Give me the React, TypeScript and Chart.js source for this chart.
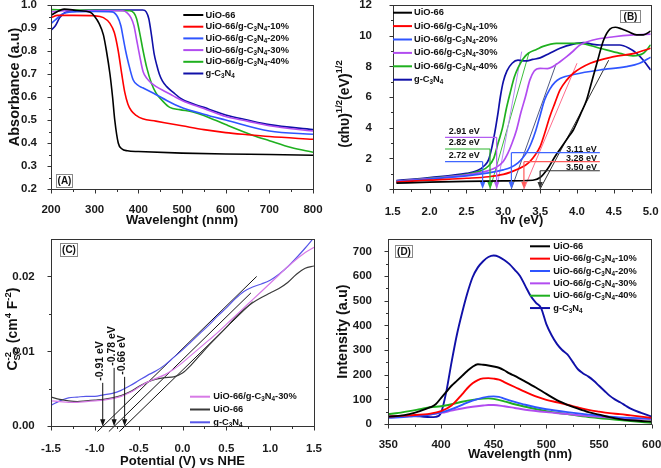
import { useEffect, useRef } from 'react';
import { Chart, registerables } from 'chart.js';

Chart.register(...registerables);

const FONT = '"Liberation Sans", Arial, Helvetica, sans-serif';

// ---------------- (A) UV-vis absorbance ----------------
const absTicksX = [200, 300, 400, 500, 600, 700, 800];
const absTicksY = [0.2, 0.3, 0.4, 0.5, 0.6, 0.7, 0.8, 0.9, 1.0];
const absUioX = [200, 215, 230, 260, 290, 300, 310, 320, 327, 335, 341, 346, 354, 362, 375, 400, 500, 600, 700, 800];
const absUioY = [0.955, 0.972, 0.982, 0.976, 0.968, 0.95, 0.92, 0.87, 0.80, 0.70, 0.60, 0.50, 0.40, 0.375, 0.366, 0.363, 0.356, 0.352, 0.350, 0.347];
const abs10X = [200, 215, 250, 300, 320, 335, 345, 354, 362, 369, 376, 384, 395, 410, 440, 500, 550, 600, 650, 700, 800];
const abs10Y = [0.945, 0.955, 0.955, 0.953, 0.945, 0.92, 0.88, 0.80, 0.70, 0.62, 0.57, 0.54, 0.52, 0.505, 0.495, 0.475, 0.458, 0.445, 0.436, 0.428, 0.416];
const abs20X = [200, 210, 225, 250, 300, 340, 352, 360, 365, 371, 377, 388, 400, 410, 441, 465, 495, 550, 600, 700, 800];
const abs20Y = [0.92, 0.935, 0.96, 0.97, 0.972, 0.97, 0.95, 0.91, 0.86, 0.80, 0.75, 0.675, 0.65, 0.64, 0.61, 0.585, 0.558, 0.525, 0.50, 0.452, 0.438];
const abs30X = [200, 230, 300, 365, 375, 383, 390, 396, 403, 411, 420, 430, 441, 460, 480, 500, 550, 600, 650, 700, 800];
const abs30Y = [0.97, 0.975, 0.975, 0.975, 0.965, 0.945, 0.91, 0.85, 0.78, 0.71, 0.68, 0.66, 0.645, 0.625, 0.605, 0.585, 0.55, 0.515, 0.495, 0.475, 0.452];
const abs40X = [200, 250, 300, 380, 390, 396, 403, 411, 419, 430, 441, 457, 472, 495, 525, 550, 600, 663, 700, 750, 800];
const abs40Y = [0.98, 0.978, 0.977, 0.975, 0.965, 0.94, 0.88, 0.80, 0.73, 0.66, 0.616, 0.58, 0.555, 0.545, 0.535, 0.52, 0.48, 0.433, 0.41, 0.38, 0.36];
const absCnX = [200, 210, 220, 235, 260, 300, 410, 418, 424, 430, 436, 442, 448, 455, 465, 480, 500, 550, 600, 650, 700, 800];
const absCnY = [0.89, 0.91, 0.945, 0.97, 0.975, 0.978, 0.978, 0.97, 0.94, 0.87, 0.79, 0.74, 0.70, 0.67, 0.645, 0.62, 0.59, 0.555, 0.522, 0.50, 0.48, 0.458];

// ---------------- (B) Tauc plot ----------------
const taucTicksX = [1.5, 2.0, 2.5, 3.0, 3.5, 4.0, 4.5, 5.0];
const taucTicksY = [0, 2, 4, 6, 8, 10, 12];
const taucUioX = [1.55, 2.0, 2.5, 3.0, 3.4, 3.5, 3.6, 3.7, 3.8, 3.9, 3.95, 4.05, 4.13, 4.2, 4.27, 4.36, 4.45, 4.52, 4.6, 4.7, 4.81, 4.9, 5.0];
const taucUioY = [0.38, 0.45, 0.5, 0.53, 0.57, 0.75, 1.3, 2.1, 2.8, 3.5, 3.85, 4.9, 5.8, 7.0, 8.2, 9.7, 10.45, 10.55, 10.45, 10.25, 10.05, 10.05, 10.3];
const tauc10X = [1.55, 2.0, 2.5, 2.8, 3.0, 3.1, 3.2, 3.3, 3.36, 3.43, 3.5, 3.56, 3.63, 3.7, 3.77, 3.86, 3.95, 4.18, 4.5, 4.78, 5.0];
const tauc10Y = [0.45, 0.58, 0.7, 0.8, 0.95, 1.1, 1.3, 1.55, 1.78, 2.2, 2.76, 3.6, 4.7, 5.6, 6.46, 7.1, 7.55, 8.2, 8.63, 8.85, 9.18];
const tauc20X = [1.55, 2.0, 2.5, 2.8, 3.0, 3.1, 3.2, 3.26, 3.32, 3.38, 3.44, 3.5, 3.56, 3.63, 3.7, 3.77, 3.99, 4.31, 4.67, 4.85, 5.0];
const tauc20Y = [0.48, 0.65, 0.85, 1.05, 1.25, 1.4, 1.7, 2.0, 2.4, 3.0, 3.8, 4.8, 5.8, 6.5, 6.95, 7.2, 7.5, 7.76, 7.98, 8.2, 8.6];
const tauc30X = [1.55, 2.0, 2.5, 2.8, 2.9, 3.0, 3.06, 3.12, 3.18, 3.24, 3.3, 3.36, 3.42, 3.5, 3.6, 3.68, 3.77, 3.86, 3.95, 4.04, 4.22, 4.5, 4.77, 5.0];
const tauc30Y = [0.5, 0.68, 0.92, 1.2, 1.4, 1.8, 2.3, 3.0, 3.85, 5.0, 6.0, 7.1, 7.7, 7.87, 7.85, 8.0, 8.3, 8.63, 9.0, 9.39, 9.72, 9.93, 10.05, 10.1];
const tauc40X = [1.55, 2.0, 2.5, 2.7, 2.8, 2.87, 2.93, 2.99, 3.04, 3.09, 3.15, 3.2, 3.27, 3.34, 3.45, 3.54, 3.72, 4.04, 4.31, 4.58, 4.76, 4.9, 5.0];
const tauc40Y = [0.5, 0.7, 0.95, 1.2, 1.5, 2.0, 3.0, 4.0, 5.2, 6.2, 7.3, 7.9, 8.5, 8.85, 9.1, 9.3, 9.5, 9.5, 9.18, 8.85, 8.68, 8.85, 9.4];
const taucCnX = [1.55, 2.0, 2.5, 2.65, 2.75, 2.8, 2.84, 2.87, 2.9, 2.93, 2.96, 3.0, 3.05, 3.12, 3.2, 3.3, 3.4, 3.5, 3.63, 3.77, 3.95, 4.09, 4.2, 4.31, 4.58, 4.7, 4.81, 4.9, 5.0];
const taucCnY = [0.55, 0.75, 1.02, 1.2, 1.55, 1.9, 2.6, 3.3, 4.1, 5.0, 6.0, 7.0, 7.7, 8.2, 8.4, 8.35, 8.45, 8.55, 8.85, 9.18, 9.45, 9.55, 9.45, 9.39, 9.39, 9.2, 8.85, 8.4, 7.76];
// tangent lines: [x0, x1], [y0, y1]
const taucTan30X = [2.91, 3.25];
const taucTan30Y = [0, 8.96];
const taucTan40X = [2.82, 3.35];
const taucTan40Y = [0, 8.9];
const taucTan20X = [3.11, 3.72];
const taucTan20Y = [0, 8.2];
const taucTan10X = [3.28, 4.0];
const taucTan10Y = [0, 8.2];
const taucTanUioX = [3.5, 4.43];
const taucTanUioY = [0, 8.4];
// band gap markers
const gapLeftValues = [2.91, 2.82, 2.72];
const gapLeftLevels = [3.37, 2.61, 1.78];
const gapLeftStart = 2.21;
const gapLeftLabelX = 2.47;
const gapRightValues = [3.11, 3.28, 3.5];
const gapRightLevels = [2.37, 1.78, 1.19];
const gapRightEnd = 4.31;
const gapRightLabelX = 4.06;

// ---------------- (C) Mott-Schottky ----------------
const msTicksX = [-1.5, -1.0, -0.5, 0.0, 0.5, 1.0, 1.5];
const msTicksY = [0.0, 0.01, 0.02];
const msPotential = [-1.5, -1.4, -1.3, -1.2, -1.1, -1.0, -0.9, -0.8, -0.7, -0.6, -0.5, -0.4, -0.3, -0.2, -0.1, 0.0, 0.1, 0.2, 0.3, 0.4, 0.5, 0.6, 0.7, 0.8, 0.9, 1.0, 1.1, 1.2, 1.3, 1.4, 1.5];
const ms30 = [0.0034, 0.0033, 0.0032, 0.0032, 0.0033, 0.0034, 0.0035, 0.0037, 0.0040, 0.0045, 0.0052, 0.0059, 0.0064, 0.0069, 0.0076, 0.0085, 0.0095, 0.0105, 0.0115, 0.0125, 0.0136, 0.0147, 0.0158, 0.0169, 0.0180, 0.0191, 0.0202, 0.0213, 0.0223, 0.0232, 0.0239];
const msUio = [0.0039, 0.0036, 0.0034, 0.0033, 0.0034, 0.0035, 0.0036, 0.0038, 0.0041, 0.0046, 0.0053, 0.0059, 0.0063, 0.0065, 0.0066, 0.0071, 0.0082, 0.0095, 0.0108, 0.0120, 0.0132, 0.0145, 0.0156, 0.0165, 0.0172, 0.0178, 0.0184, 0.0192, 0.0203, 0.0211, 0.0214];
const msCn = [0.0028, 0.0034, 0.0038, 0.0039, 0.0040, 0.0040, 0.0042, 0.0044, 0.0048, 0.0054, 0.0061, 0.0068, 0.0074, 0.0082, 0.0092, 0.0102, 0.0113, 0.0124, 0.0135, 0.0147, 0.0158, 0.0170, 0.0180, 0.0186, 0.0190, 0.0195, 0.0203, 0.0213, 0.0225, 0.0238, 0.0252];
const msTan1X = [-0.97, 0.846];
const msTan1Y = [-0.0007, 0.02];
const msTan2X = [-0.84, 0.78];
const msTan2Y = [-0.0007, 0.0178];
const msTan3X = [-0.72, 0.8];
const msTan3Y = [-0.0007, 0.0166];
const msFlatBand = [-0.91, -0.78, -0.66];
const msArrowTop = [0.0058, 0.0078, 0.0066];

// ---------------- (D) Photoluminescence ----------------
const plTicksX = [350, 400, 450, 500, 550, 600];
const plTicksY = [0, 100, 200, 300, 400, 500, 600, 700];
const plUioX = [350, 360, 370, 380, 390, 395, 400, 405, 410, 415, 420, 425, 430, 435, 440, 445, 450, 455, 460, 465, 470, 480, 490, 500, 510, 520, 530, 540, 550, 560, 570, 580, 590, 600];
const plUioY = [30, 33, 40, 52, 68, 80, 105, 130, 155, 175, 195, 215, 232, 242, 240, 237, 233, 228, 218, 205, 195, 172, 148, 122, 97, 78, 62, 48, 38, 28, 20, 15, 12, 10];
const pl10X = [350, 370, 390, 400, 410, 420, 425, 430, 435, 440, 445, 450, 455, 460, 470, 480, 490, 500, 510, 520, 530, 540, 550, 560, 570, 580, 590, 600];
const pl10Y = [30, 35, 42, 52, 75, 120, 145, 165, 178, 185, 186, 184, 180, 170, 150, 130, 112, 98, 88, 78, 67, 57, 50, 44, 40, 35, 30, 25];
const pl20X = [350, 370, 390, 400, 410, 420, 430, 440, 445, 450, 455, 460, 470, 480, 490, 500, 520, 540, 560, 580, 600];
const pl20Y = [25, 30, 38, 47, 60, 78, 95, 107, 111, 112, 110, 103, 90, 78, 68, 60, 48, 38, 30, 25, 22];
const pl30X = [350, 380, 400, 410, 420, 430, 440, 445, 450, 460, 470, 480, 500, 520, 540, 560, 580, 600];
const pl30Y = [30, 35, 45, 54, 63, 70, 75, 77, 77, 72, 65, 58, 48, 40, 32, 26, 22, 20];
const pl40X = [350, 360, 370, 380, 390, 400, 410, 420, 430, 440, 445, 450, 460, 470, 480, 500, 520, 540, 560, 580, 600];
const pl40Y = [40, 45, 52, 60, 68, 72, 80, 90, 98, 103, 104, 102, 92, 80, 70, 52, 40, 28, 20, 12, 5];
const plCnX = [350, 360, 370, 380, 390, 395, 400, 405, 410, 415, 420, 425, 430, 435, 440, 445, 450, 455, 460, 465, 470, 475, 480, 485, 490, 495, 500, 505, 510, 515, 520, 525, 530, 535, 540, 545, 550, 555, 560, 565, 570, 575, 580, 590, 600];
const plCnY = [30, 32, 33, 31, 28, 29, 45, 130, 250, 360, 450, 530, 595, 635, 660, 677, 683, 678, 665, 648, 625, 600, 560, 520, 492, 470, 405, 360, 325, 300, 282, 252, 222, 205, 192, 175, 155, 135, 115, 100, 88, 75, 62, 45, 30];

const seriesLabels = ['UiO-66', 'UiO-66/g-C3N4-10%', 'UiO-66/g-C3N4-20%', 'UiO-66/g-C3N4-30%', 'UiO-66/g-C3N4-40%', 'g-C3N4'];
const seriesColors = ['#000000', '#ff0000', '#2f55ff', '#b24cf0', '#1fb01f', '#1010a8'];

// ---------------- helpers ----------------
const xy = (xs: number[], ys: number[]) => xs.map((x, i) => ({ x, y: ys[i] }));

type Seg = { t: string; m: 'n' | 'b' | 'p' | 's'; t2?: string };
function parseRich(s: string): Seg[] {
  const out: Seg[] = [];
  let buf = '';
  let i = 0;
  const grp = () => {
    if (s[i] === '{') {
      const j = s.indexOf('}', i);
      const r = s.slice(i + 1, j);
      i = j + 1;
      return r;
    }
    const r = s[i];
    i += 1;
    return r;
  };
  while (i < s.length) {
    const c = s[i];
    if (c === '_' || c === '^' || c === '~') {
      if (buf) { out.push({ t: buf, m: 'n' }); buf = ''; }
      i += 1;
      if (c === '~') { const a = grp(); const b = grp(); out.push({ t: a, m: 's', t2: b }); }
      else out.push({ t: grp(), m: c === '_' ? 'b' : 'p' });
    } else { buf += c; i += 1; }
  }
  if (buf) out.push({ t: buf, m: 'n' });
  return out;
}
const richLabel = (s: string) => s.replace(/C3N4/g, 'C_3N_4');

function drawRich(ctx: CanvasRenderingContext2D, text: string, x: number, y: number, size: number, align: 'left' | 'center', color: string) {
  const segs = parseRich(text);
  const big = `bold ${size}px ${FONT}`;
  const small = `bold ${size * 0.68}px ${FONT}`;
  const widths = segs.map((sg) => {
    if (sg.m === 'n') { ctx.font = big; return ctx.measureText(sg.t).width; }
    ctx.font = small;
    if (sg.m === 's') return Math.max(ctx.measureText(sg.t).width, ctx.measureText(sg.t2 || '').width);
    return ctx.measureText(sg.t).width;
  });
  const total = widths.reduce((a, b) => a + b, 0);
  let cx = align === 'center' ? x - total / 2 : x;
  ctx.fillStyle = color;
  ctx.textBaseline = 'middle';
  ctx.textAlign = 'left';
  segs.forEach((sg, k) => {
    if (sg.m === 'n') { ctx.font = big; ctx.fillText(sg.t, cx, y); }
    else {
      ctx.font = small;
      if (sg.m === 'b') ctx.fillText(sg.t, cx, y + size * 0.3);
      else if (sg.m === 'p') ctx.fillText(sg.t, cx, y - size * 0.38);
      else { ctx.fillText(sg.t, cx, y - size * 0.4); ctx.fillText(sg.t2 || '', cx, y + size * 0.3); }
    }
    cx += widths[k];
  });
  return total;
}

type AxisSpec = {
  min: number; max: number; ticks: number[]; digits: number; fit: number; pad: number;
  title?: string; titlePad?: number; titleSize?: number;
};

function makeScale(a: AxisSpec, axis: 'x' | 'y') {
  return {
    type: 'linear',
    min: a.min,
    max: a.max,
    grid: { display: false },
    border: { display: false },
    afterBuildTicks: (s: any) => { s.ticks = a.ticks.map((v) => ({ value: v })); },
    ticks: {
      autoSkip: false, maxRotation: 0, minRotation: 0, padding: a.pad, color: '#1a1a1a',
      font: { family: FONT, size: 11.5, weight: 'bold' },
      callback: (v: any) => Number(v).toFixed(a.digits),
    },
    title: a.title
      ? { display: true, text: a.title, color: '#111', font: { family: FONT, size: a.titleSize || 13, weight: 'bold', lineHeight: 1 }, padding: { top: a.titlePad || 0, bottom: a.titlePad || 0 } }
      : { display: false },
    afterFit: (s: any) => {
      if (axis === 'x') s.height = a.fit; else s.width = a.fit;
      s.paddingLeft = 0; s.paddingRight = 0; s.paddingTop = 0; s.paddingBottom = 0;
    },
  };
}

const framePlugin = {
  id: 'frameTicks',
  afterDatasetsDraw(chart: any) {
    const { ctx, chartArea: a, scales } = chart;
    ctx.save();
    ctx.strokeStyle = '#333';
    ctx.lineWidth = 1;
    ctx.strokeRect(Math.round(a.left) + 0.5, Math.round(a.top) + 0.5, Math.round(a.right - a.left), Math.round(a.bottom - a.top));
    const xs = scales.x; const ys = scales.y;
    const xv = xs.ticks.map((t: any) => t.value);
    const yv = ys.ticks.map((t: any) => t.value);
    const bottom = Math.round(a.bottom) + 0.5;
    const left = Math.round(a.left) + 0.5;
    ctx.beginPath();
    xv.forEach((v: number, i: number) => {
      const p = Math.round(xs.getPixelForValue(v)) + 0.5;
      ctx.moveTo(p, bottom); ctx.lineTo(p, bottom + 4);
      if (i < xv.length - 1) {
        const m = Math.round(xs.getPixelForValue((v + xv[i + 1]) / 2)) + 0.5;
        ctx.moveTo(m, bottom); ctx.lineTo(m, bottom + 2.5);
      }
    });
    yv.forEach((v: number, i: number) => {
      const p = Math.round(ys.getPixelForValue(v)) + 0.5;
      ctx.moveTo(left - 4, p); ctx.lineTo(left, p);
      if (i < yv.length - 1) {
        const m = Math.round(ys.getPixelForValue((v + yv[i + 1]) / 2)) + 0.5;
        ctx.moveTo(left - 2.5, m); ctx.lineTo(left, m);
      }
    });
    ctx.stroke();
    ctx.restore();
  },
};

function legendPlugin(cfg: { x0: number; x1: number; tx: number; y0: number; dy: number; size: number }) {
  return {
    id: 'richLegend',
    afterDatasetsDraw(chart: any) {
      const { ctx } = chart;
      ctx.save();
      const items = chart.data.datasets.filter((d: any) => d.inLegend);
      items.forEach((d: any, i: number) => {
        const y = cfg.y0 + i * cfg.dy;
        ctx.strokeStyle = d.borderColor;
        ctx.lineWidth = 2;
        ctx.beginPath(); ctx.moveTo(cfg.x0, y); ctx.lineTo(cfg.x1, y); ctx.stroke();
        drawRich(ctx, richLabel(d.label), cfg.tx, y, cfg.size, 'left', '#111');
      });
      ctx.restore();
    },
  };
}

function boxLabelPlugin(text: string, x: number, y: number, w: number, h: number) {
  return {
    id: 'boxLabel',
    afterDatasetsDraw(chart: any) {
      const { ctx } = chart;
      ctx.save();
      ctx.fillStyle = '#fff';
      ctx.fillRect(x, y, w, h);
      ctx.strokeStyle = '#888';
      ctx.lineWidth = 1;
      ctx.strokeRect(x + 0.5, y + 0.5, w, h);
      ctx.fillStyle = '#111';
      ctx.font = `bold 10px ${FONT}`;
      ctx.textAlign = 'center';
      ctx.textBaseline = 'middle';
      ctx.fillText(text, x + w / 2 + 0.5, y + h / 2 + 1);
      ctx.restore();
    },
  };
}

function richTitlePlugin(text: string, x: number, y: number, size: number) {
  return {
    id: 'richTitle',
    afterDraw(chart: any) {
      const { ctx } = chart;
      ctx.save();
      ctx.translate(x, y);
      ctx.rotate(-Math.PI / 2);
      drawRich(ctx, text, 0, 0, size, 'center', '#111');
      ctx.restore();
    },
  };
}

function arrowHead(ctx: CanvasRenderingContext2D, px: number, tip: number, color: string) {
  ctx.fillStyle = color;
  ctx.beginPath();
  ctx.moveTo(px, tip);
  ctx.lineTo(px - 2.6, tip - 7);
  ctx.lineTo(px + 2.6, tip - 7);
  ctx.closePath();
  ctx.fill();
}

const gapLeftColors = ['#b45ef2', '#2db52d', '#3f66ff'];
const gapRightColors = ['#3f66ff', '#ff5a5a', '#333333'];

const gapPlugin = {
  id: 'gapMarks',
  afterDatasetsDraw(chart: any) {
    const { ctx, scales: { x, y } } = chart;
    ctx.save();
    ctx.lineWidth = 1.2;
    const p0 = y.getPixelForValue(0);
    const one = (v: number, lev: number, from: number, to: number, color: string, lx: number, dy: number) => {
      const px = x.getPixelForValue(v);
      const py = y.getPixelForValue(lev);
      ctx.strokeStyle = color;
      ctx.beginPath();
      ctx.moveTo(x.getPixelForValue(from), py);
      ctx.lineTo(x.getPixelForValue(to), py);
      ctx.moveTo(px, py);
      ctx.lineTo(px, p0 - 5);
      ctx.stroke();
      arrowHead(ctx, px, p0, color);
      drawRich(ctx, `${v.toFixed(2)} eV`, x.getPixelForValue(lx), py - dy, 9, 'center', '#111');
    };
    gapLeftValues.forEach((v, i) => one(v, gapLeftLevels[i], gapLeftStart, v, gapLeftColors[i], gapLeftLabelX, 6));
    gapRightValues.forEach((v, i) => one(v, gapRightLevels[i], v, gapRightEnd, gapRightColors[i], gapRightLabelX, 3.5));
    ctx.restore();
  },
};

const flatBandPlugin = {
  id: 'flatBand',
  afterDatasetsDraw(chart: any) {
    const { ctx, scales: { x, y } } = chart;
    ctx.save();
    const p0 = y.getPixelForValue(0);
    msFlatBand.forEach((v, i) => {
      const px = x.getPixelForValue(v);
      const pt = y.getPixelForValue(msArrowTop[i]);
      ctx.strokeStyle = '#111';
      ctx.lineWidth = 1;
      ctx.beginPath(); ctx.moveTo(px, pt); ctx.lineTo(px, p0 - 5); ctx.stroke();
      arrowHead(ctx, px, p0, '#111');
      ctx.save();
      ctx.translate(px - 2.5, pt - 2);
      ctx.rotate(-Math.PI / 2);
      ctx.font = `bold 10.5px ${FONT}`;
      ctx.fillStyle = '#111';
      ctx.textAlign = 'left';
      ctx.textBaseline = 'middle';
      ctx.fillText(`${v.toFixed(2)} eV`, 0, 0);
      ctx.restore();
    });
    ctx.restore();
  },
};

function baseOptions(padTop: number, padRight: number, xa: AxisSpec, ya: AxisSpec, lineWidth: number) {
  return {
    responsive: false,
    animation: false,
    devicePixelRatio: 1,
    events: [],
    layout: { padding: { left: 0, top: padTop, right: padRight, bottom: 0 } },
    plugins: { legend: { display: false }, tooltip: { enabled: false } },
    elements: { point: { radius: 0 }, line: { cubicInterpolationMode: 'monotone', borderWidth: lineWidth } },
    scales: { x: makeScale(xa, 'x'), y: makeScale(ya, 'y') },
  };
}

const series = (data: any[], i: number, extra: any = {}) => ({
  label: seriesLabels[i], data, borderColor: seriesColors[i], inLegend: true, ...extra,
});
const tangent = (xs: number[], ys: number[], color: string, clip: any = undefined) => ({
  label: 'tangent', data: xy(xs, ys), borderColor: color, borderWidth: 1, cubicInterpolationMode: 'default', tension: 0,
  inLegend: false, ...(clip !== undefined ? { clip } : {}),
});

function configA(): any {
  return {
    type: 'line',
    data: {
      datasets: [
        series(xy(absUioX, absUioY), 0), series(xy(abs10X, abs10Y), 1), series(xy(abs20X, abs20Y), 2),
        series(xy(abs30X, abs30Y), 3), series(xy(abs40X, abs40Y), 4), series(xy(absCnX, absCnY), 5),
      ],
    },
    options: baseOptions(5, 17,
      { min: 200, max: 800, ticks: absTicksX, digits: 0, fit: 45, pad: 5.8, title: 'Wavelenght (nnm)', titlePad: 7.5, titleSize: 13 },
      { min: 0.2, max: 1.0, ticks: absTicksY, digits: 1, fit: 51, pad: 6 }, 1.6),
    plugins: [framePlugin, legendPlugin({ x0: 183.3, x1: 203.3, tx: 205.5, y0: 15, dy: 11.7, size: 9.3 }),
      boxLabelPlugin('(A)', 56, 174, 16, 13), richTitlePlugin('Absorbance (a.u)', 15, 87, 14.5)],
  };
}

function configB(): any {
  return {
    type: 'line',
    data: {
      datasets: [
        series(xy(taucUioX, taucUioY), 0), series(xy(tauc10X, tauc10Y), 1), series(xy(tauc20X, tauc20Y), 2),
        series(xy(tauc30X, tauc30Y), 3), series(xy(tauc40X, tauc40Y), 4), series(xy(taucCnX, taucCnY), 5),
        tangent(taucTan30X, taucTan30Y, '#b888f2'), tangent(taucTan40X, taucTan40Y, '#3cbf3c'),
        tangent(taucTan20X, taucTan20Y, '#505a80'), tangent(taucTan10X, taucTan10Y, '#ff6b8a'),
        tangent(taucTanUioX, taucTanUioY, '#333333'),
      ],
    },
    options: baseOptions(5, 10.3,
      { min: 1.5, max: 5.0, ticks: taucTicksX, digits: 1, fit: 45, pad: 8.1, title: 'hv (eV)', titlePad: 7.5, titleSize: 13 },
      { min: 0, max: 12, ticks: taucTicksY, digits: 0, fit: 62.7, pad: 12.7 }, 1.7),
    plugins: [framePlugin, gapPlugin, legendPlugin({ x0: 63, x1: 82, tx: 84, y0: 12.7, dy: 13.4, size: 9.3 }),
      boxLabelPlugin('(B)', 290, 10, 20, 12), richTitlePlugin('(\u03B1h\u03C5)^{1/2}(eV)^{1/2}', 15, 104, 14)],
  };
}

function configC(): any {
  const colors = ['#d77ae6', '#3a3a3a', '#5656e8'];
  return {
    type: 'line',
    data: {
      datasets: [
        { label: 'UiO-66/g-C3N4-30%', data: xy(msPotential, ms30), borderColor: colors[0], inLegend: true },
        { label: 'UiO-66', data: xy(msPotential, msUio), borderColor: colors[1], inLegend: true },
        { label: 'g-C3N4', data: xy(msPotential, msCn), borderColor: colors[2], inLegend: true },
        tangent(msTan1X, msTan1Y, '#111', false), tangent(msTan2X, msTan2Y, '#111', false), tangent(msTan3X, msTan3Y, '#111', false),
      ],
    },
    options: baseOptions(5, 16,
      { min: -1.5, max: 1.5, ticks: msTicksX, digits: 1, fit: 41.7, pad: 7.5, title: 'Potential (V) vs NHE', titlePad: 0.5, titleSize: 13 },
      { min: 0, max: 0.025, ticks: msTicksY, digits: 2, fit: 51, pad: 8.3 }, 1.2),
    plugins: [framePlugin, flatBandPlugin, legendPlugin({ x0: 190, x1: 210, tx: 213.3, y0: 162.7, dy: 12.8, size: 9.3 }),
      boxLabelPlugin('(C)', 60, 9, 17, 13), richTitlePlugin('C~{-2}{SC} (cm^4 F^{-2})', 13.5, 95, 14)],
  };
}

function configD(): any {
  return {
    type: 'line',
    data: {
      datasets: [
        series(xy(plUioX, plUioY), 0), series(xy(pl10X, pl10Y), 1), series(xy(pl20X, pl20Y), 2),
        series(xy(pl30X, pl30Y), 3), series(xy(pl40X, pl40Y), 4), series(xy(plCnX, plCnY), 5),
      ],
    },
    options: baseOptions(5, 9.3,
      { min: 350, max: 600, ticks: plTicksX, digits: 0, fit: 44, pad: 6.4, title: 'Wavelength (nm)', titlePad: 7.5, titleSize: 13 },
      { min: 0, max: 750, ticks: plTicksY, digits: 0, fit: 58.3, pad: 8.3, title: 'Intensity (a.u)', titlePad: 6, titleSize: 14.5 }, 1.9),
    plugins: [framePlugin, legendPlugin({ x0: 200, x1: 220, tx: 223.3, y0: 12.3, dy: 12.35, size: 9.3 }), boxLabelPlugin('(D)', 65, 11, 17, 12)],
  };
}

function Panel({ x, y, w, h, make }: { x: number; y: number; w: number; h: number; make: () => any }) {
  const ref = useRef<HTMLCanvasElement>(null);
  useEffect(() => {
    const chart = new Chart(ref.current as HTMLCanvasElement, make());
    return () => chart.destroy();
  }, []);
  return <canvas ref={ref} width={w} height={h} style={{ position: 'absolute', left: x, top: y, width: w, height: h }} />;
}

export default function App() {
  return (
    <div style={{ position: 'absolute', left: 0, top: 0, width: 661, height: 468, background: '#fff', overflow: 'hidden' }}>
      <Panel x={0} y={0} w={330} h={234} make={configA} />
      <Panel x={330} y={0} w={331} h={234} make={configB} />
      <Panel x={0} y={234} w={330} h={234} make={configC} />
      <Panel x={330} y={234} w={331} h={234} make={configD} />
    </div>
  );
}
